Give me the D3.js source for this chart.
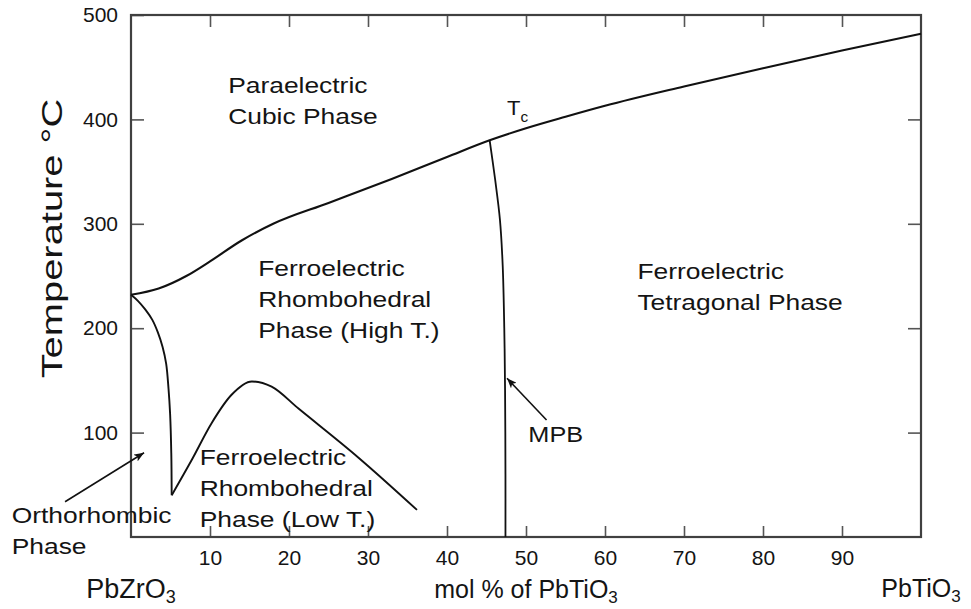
<!DOCTYPE html>
<html>
<head>
<meta charset="utf-8">
<script src="https://cdn.jsdelivr.net/npm/d3@7"></script>
<style>
  html, body { margin: 0; background: #fff; }
  svg { display: block; }
  text { font-family: "Liberation Sans", Arial, Helvetica, sans-serif; fill: #141414; }
</style>
</head>
<body>
<svg id="chart" width="971" height="609"></svg>
<script>
// PbZrO3–PbTiO3 phase diagram: composition (mol % PbTiO3) vs temperature (°C)

// Curie temperature Tc (paraelectric cubic / ferroelectric boundary)
const tcX = [0, 3.5, 7, 10, 14, 18, 25, 33, 40, 45.4, 50, 55, 60, 70, 80, 90, 100];
const tcT = [232, 238, 250, 264, 284, 300, 320, 343, 364, 380, 391.5, 402.5, 413, 431.5, 449, 466, 482];

// Orthorhombic / rhombohedral boundary near pure PbZrO3
const orthoX = [0, 0.9, 1.8, 2.7, 3.4, 4.0, 4.45, 4.75, 4.95, 5.1, 5.15];
const orthoT = [232, 226, 218, 208, 196, 182, 166, 142, 118, 80, 40];

// High-T / low-T rhombohedral boundary
const lowRhX = [5.15, 7.7, 10.2, 12.7, 15.3, 17.8, 21.2, 28.8, 36.2];
const lowRhT = [40, 74, 109, 136, 149, 144, 123, 76, 26];

// Morphotropic phase boundary (rhombohedral / tetragonal)
const mpbX = [45.4, 46.1, 46.7, 47.05, 47.25, 47.35, 47.4, 47.4];
const mpbT = [380, 342, 304, 260, 200, 140, 60, 0];

// Axis ticks
const xTicks = [10, 20, 30, 40, 50, 60, 70, 80, 90];
const yTicks = [100, 200, 300, 400, 500];
const yInnerTicks = [100, 200, 300, 400];

const svg = d3.select("#chart");
const FONT = '"Liberation Sans", Arial, Helvetica, sans-serif';

const x = d3.scaleLinear().domain([0, 100]).range([131, 921]);
const y = d3.scaleLinear().domain([0, 500]).range([537, 15]);

// ---- axes (inward ticks on all four sides) ----
function styleAxis(g) {
  g.select(".domain").remove();
  g.selectAll(".tick line").attr("stroke", "#555").attr("stroke-width", 1.6);
  g.selectAll(".tick text").attr("fill", "#1a1a1a");
  g.attr("font-family", FONT).attr("font-size", 21);
}

svg.append("g")
  .attr("transform", `translate(0,${y(0)})`)
  .call(d3.axisBottom(x).tickValues(xTicks).tickSizeInner(-11).tickSizeOuter(0).tickPadding(13))
  .call(styleAxis);

svg.append("g")
  .attr("transform", `translate(0,${y(500)})`)
  .call(d3.axisTop(x).tickValues(xTicks).tickSizeInner(-12).tickSizeOuter(0).tickFormat(""))
  .call(styleAxis);

svg.append("g")
  .attr("transform", `translate(${x(0)},0)`)
  .call(d3.axisLeft(y).tickValues(yTicks).tickSizeInner(-13).tickSizeOuter(0).tickPadding(13))
  .call(styleAxis);

svg.append("g")
  .attr("transform", `translate(${x(100)},0)`)
  .call(d3.axisRight(y).tickValues(yInnerTicks).tickSizeInner(-13).tickSizeOuter(0).tickFormat(""))
  .call(styleAxis);

// plot frame
svg.append("rect")
  .attr("x", x(0)).attr("y", y(500))
  .attr("width", x(100) - x(0)).attr("height", y(0) - y(500))
  .attr("fill", "none").attr("stroke", "#404040").attr("stroke-width", 2.2);

// ---- phase boundaries ----
const pts = (xs, ts) => xs.map((v, i) => [v, ts[i]]);
const lineGen = curve => d3.line().x(d => x(d[0])).y(d => y(d[1])).curve(curve);

svg.append("path").datum(pts(tcX, tcT))
  .attr("d", lineGen(d3.curveMonotoneX))
  .attr("fill", "none").attr("stroke", "#111").attr("stroke-width", 2.1);

svg.append("path").datum(pts(orthoX, orthoT))
  .attr("d", lineGen(d3.curveCatmullRom.alpha(0.5)))
  .attr("fill", "none").attr("stroke", "#111").attr("stroke-width", 1.9);

svg.append("path").datum(pts(lowRhX, lowRhT))
  .attr("d", lineGen(d3.curveMonotoneX))
  .attr("fill", "none").attr("stroke", "#111").attr("stroke-width", 1.9);

svg.append("path").datum(pts(mpbX, mpbT))
  .attr("d", lineGen(d3.curveCatmullRom.alpha(0.5)))
  .attr("fill", "none").attr("stroke", "#111").attr("stroke-width", 1.8);

// ---- arrows ----
svg.append("defs").append("marker")
  .attr("id", "head").attr("viewBox", "0 0 10 8")
  .attr("refX", 10).attr("refY", 4)
  .attr("markerWidth", 10).attr("markerHeight", 8)
  .attr("markerUnits", "userSpaceOnUse")
  .attr("orient", "auto")
  .append("path").attr("d", "M0,0 L10,4 L0,8 L2.5,4 Z").attr("fill", "#111");

function arrow(from, to) {
  svg.append("line")
    .attr("x1", x(from[0])).attr("y1", y(from[1]))
    .attr("x2", x(to[0])).attr("y2", y(to[1]))
    .attr("stroke", "#111").attr("stroke-width", 1.6)
    .attr("marker-end", "url(#head)");
}
arrow([-8.35, 33.8], [1.65, 80.7]);   // Orthorhombic phase pointer
arrow([52.6, 112], [47.6, 152]);      // MPB pointer

// ---- phase labels (anchored in data units, slightly widened glyphs) ----
const LINE = 31;
function label(cx, ct, lines, size, sx) {
  lines.forEach((s, i) => {
    svg.append("text")
      .attr("transform", `translate(${x(cx)},${y(ct) + i * LINE}) scale(${sx},1)`)
      .attr("font-size", size)
      .text(s);
  });
}
label(12.3, 425.3, ["Paraelectric", "Cubic Phase"], 22, 1.2);
label(16.1, 250, ["Ferroelectric", "Rhombohedral", "Phase (High T.)"], 22, 1.2);
label(64.1, 247, ["Ferroelectric", "Tetragonal Phase"], 22, 1.2);
label(8.7, 69, ["Ferroelectric", "Rhombohedral", "Phase (Low T.)"], 22, 1.2);
label(-15.1, 13.4, ["Orthorhombic", "Phase"], 22, 1.2);
label(50.3, 91, ["MPB"], 22, 1.15);

// Tc with subscript
const tc = svg.append("text")
  .attr("transform", `translate(${x(47.6)},${y(404.2)}) scale(1.1,1)`)
  .attr("font-size", 20);
tc.append("tspan").text("T");
tc.append("tspan").attr("font-size", 14).attr("dy", 7).text("c");

// ---- axis titles ----
svg.append("text")
  .attr("transform", `translate(62,238.5) rotate(-90) scale(1.33,1)`)
  .attr("text-anchor", "middle")
  .attr("font-size", 30)
  .text("Temperature °C");

function chem(cx, base, main, sub, size) {
  const t = svg.append("text")
    .attr("x", cx).attr("y", base)
    .attr("text-anchor", "middle")
    .attr("font-size", size);
  t.append("tspan").text(main);
  t.append("tspan").attr("font-size", Math.round(size * 0.66)).attr("dy", 5).text(sub);
}
const titleBase = y(0) + 61;
chem(x(0), titleBase, "PbZrO", "3", 27);
chem(x(50), titleBase, "mol % of PbTiO", "3", 25);
chem(x(100), titleBase - 1, "PbTiO", "3", 25);
</script>
</body>
</html>
